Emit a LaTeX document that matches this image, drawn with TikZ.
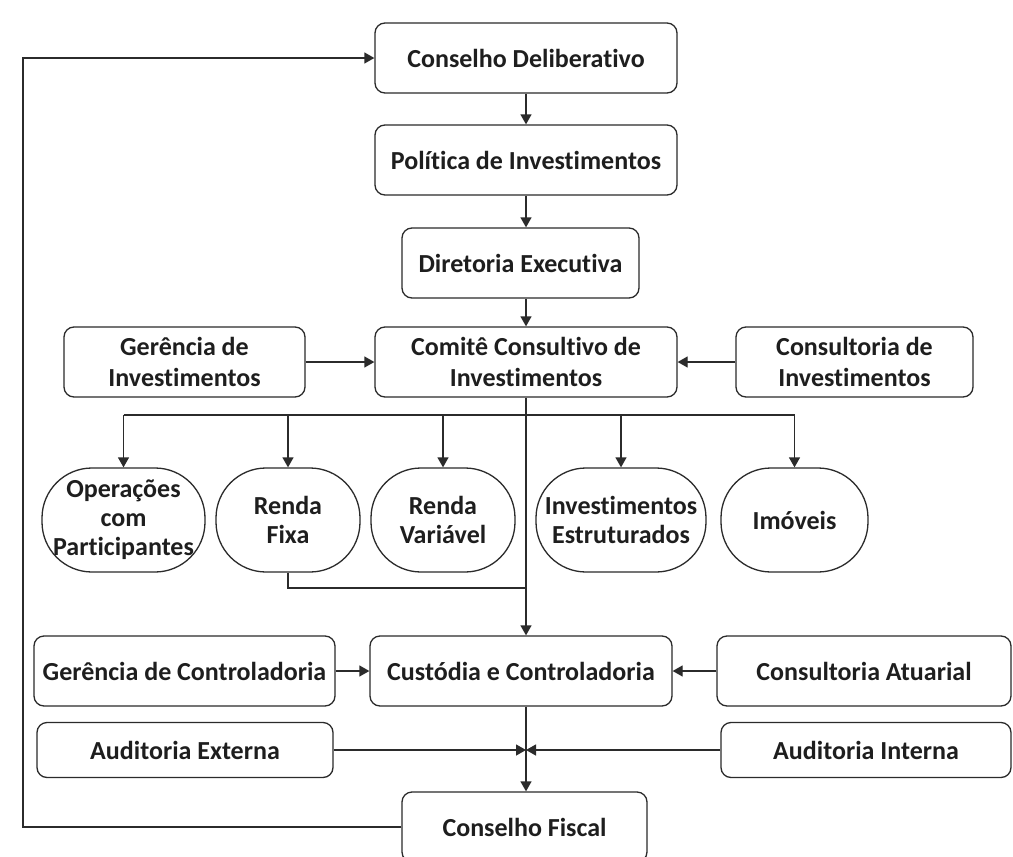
\documentclass[tikz,border=0pt]{standalone}
\usepackage{fontspec}
\setmainfont{Carlito}[Ligatures={NoCommon,NoContextual}]
\usetikzlibrary{arrows.meta}
\definecolor{lncol}{HTML}{2B2B2B}
\definecolor{txcol}{HTML}{1E1E1E}
\begin{document}
\begin{tikzpicture}[x=1pt,y=-1pt,
  box/.style={draw=lncol, line width=1.3pt, rounded corners=10pt, fill=white,
    align=center, inner sep=0pt, text=txcol,
    font=\fontsize{26}{31}\selectfont\bfseries, minimum height=70pt},
  term/.style={draw=lncol, line width=1.3pt, rounded corners=50pt, fill=white,
    align=center, inner sep=0pt, text=txcol,
    font=\fontsize{26}{29}\selectfont\bfseries, minimum height=104pt},
  arr/.style={draw=lncol, line width=1.3pt, -{Triangle[length=10pt,width=11pt]}},
  plain/.style={draw=lncol, line width=1.3pt}]
\useasboundingbox (0,0) rectangle (1013,857);
\clip (0,0) rectangle (1013,857);
\fill[white] (0,0) rectangle (1013,857);

% nodes
\node[box, minimum width=302pt] (cd) at (526,58) {Conselho Deliberativo};
\node[box, minimum width=302pt] (pi) at (526,160) {Política de Investimentos};
\node[box, minimum width=237pt] (de) at (520.5,263) {Diretoria Executiva};
\node[box, minimum width=302pt] (cc) at (526,362) {Comitê Consultivo de\\Investimentos};
\node[box, minimum width=241pt] (gi) at (184.5,362) {Gerência de\\Investimentos};
\node[box, minimum width=237pt] (ci) at (854.5,362) {Consultoria de\\Investimentos};

\node[term, minimum width=163pt] (op) at (123.5,520) {Operações\\com\\Participantes};
\node[term, minimum width=144pt] (rf) at (288,520) {Renda\\Fixa};
\node[term, minimum width=144pt] (rv) at (443,520) {Renda\\Variável};
\node[term, minimum width=170pt] (ie) at (621,520) {Investimentos\\Estruturados};
\node[term, minimum width=147pt] (im) at (794.5,520) {Imóveis};

\node[box, minimum width=301pt] (gc) at (184.5,671) {Gerência de Controladoria};
\node[box, minimum width=302pt] (cu) at (521,671) {Custódia e Controladoria};
\node[box, minimum width=294pt] (ca) at (864,671) {Consultoria Atuarial};
\node[box, minimum width=296pt, minimum height=55pt] (ae) at (185,750) {Auditoria Externa};
\node[box, minimum width=290pt, minimum height=55pt] (ai) at (866,750) {Auditoria Interna};
\node[box, minimum width=245pt] (cf) at (524.5,827) {Conselho Fiscal};

% helper coordinates
\coordinate (br) at (526,415);
\coordinate (j) at (526,588);
\coordinate (m) at (526,750);
\coordinate (fb) at (23,0);

% connectors
\draw[arr] (cd.south) -- (pi.north);
\draw[arr] (pi.south) -- (pi.south |- de.north);
\draw[arr] (de.south -| cc.north) -- (cc.north);
\draw[arr] (gi.east) -- (cc.west);
\draw[arr] (ci.west) -- (cc.east);
\draw[arr] (cc.south) -- (cc.south |- cu.north);
\draw[plain] (op.north |- br) -- (im.north |- br);
\foreach \n in {op,rf,rv,ie,im}{
  \draw[arr] (\n.north |- br) -- (\n.north);
}
\draw[plain] (rf.south) |- (j);
\draw[arr] (gc.east) -- (cu.west);
\draw[arr] (ca.west) -- (cu.east);
\draw[arr] (cu.south -| cc.south) -- (cc.south |- cf.north);
\draw[arr] (ae.east) -- (m);
\draw[arr] (ai.west) -- (m);
\draw[arr] (cf.west) -- (cf.west -| fb) -- (fb |- cd.west) -- (cd.west);
\end{tikzpicture}
\end{document}
